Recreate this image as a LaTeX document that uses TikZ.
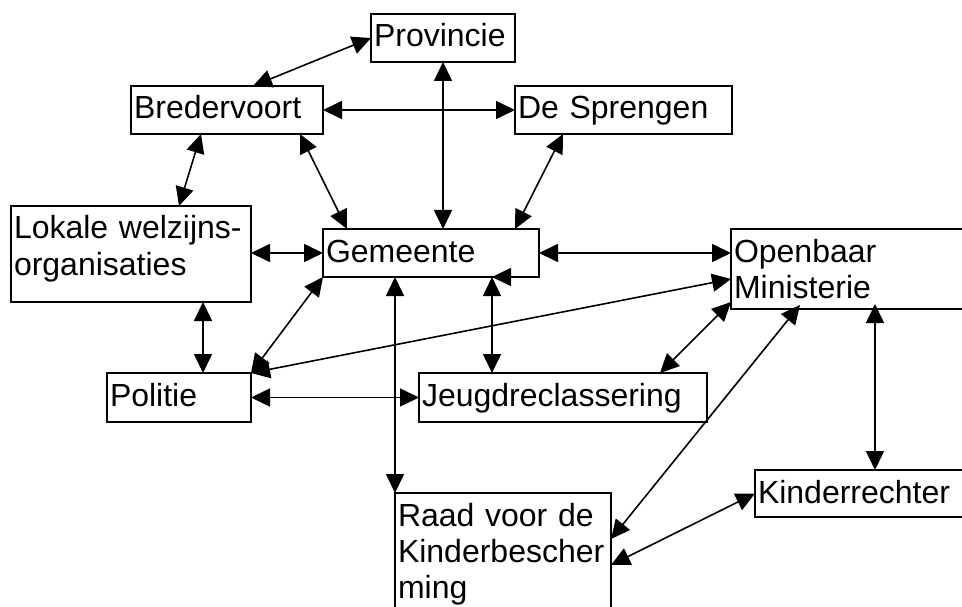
\documentclass[tikz,border=0pt]{standalone}
\usepackage{fontspec}
\setmainfont{Liberation Sans}
\usetikzlibrary{arrows.meta}
\tikzset{
  >={Triangle[length=19pt,width=18pt]},
  box/.style={draw, line width=2pt, anchor=north west, align=left, outer sep=0pt,
    inner xsep=3pt, inner ysep=0pt, text height=33pt,
    font=\fontsize{32}{36}\selectfont},
  link/.style={<->, line width=1.6pt},
}

\begin{document}
\begin{tikzpicture}[x=1pt, y=-1pt]
        \path[use as bounding box, clip] (0,0) rectangle (962,607);

        % boxes
        \node[box, text width=138pt, text depth=15pt] (prov) at (371,14) {Provincie};
        \node[box, text width=186pt, text depth=15pt] (bred) at (131,86) {Bredervoort};
        \node[box, text width=211pt, text depth=15pt] (spr) at (515,86) {De Sprengen};
        \node[box, text width=234pt, text depth=63pt] (lok) at (11,206) {Lokale welzijns-\\organisaties};
        \node[box, text width=210pt, text depth=15pt] (gem) at (323,229) {Gemeente};
        \node[box, text width=254pt, text depth=47pt] (om) at (731,229) {Openbaar\\Ministerie};
        \node[box, text width=138pt, text depth=16pt] (pol) at (107,373) {Politie};
        \node[box, text width=282pt, text depth=16pt] (jeu) at (419,373) {Jeugdreclassering};
        \node[box, text width=210pt, text depth=107pt] (raad) at (395,493) {Raad voor de\\Kinderbescher\\ming};
        \node[box, text width=224pt, text depth=14pt] (kind) at (755,470) {Kinderrechter};

        % connectors
        \draw[link] ([xshift=122pt]bred.north west) -- (prov.west);
        \draw[link] (bred.east) -- (spr.west);
        \draw[link] (prov.south) -- (prov.south |- gem.north);
        \draw[link] ([xshift=70pt]bred.south west) -- ([xshift=48pt]lok.north);
        \draw[link] ([xshift=-23pt]bred.south east) -- ([xshift=24pt]gem.north west);
        \draw[link] ([xshift=48pt]spr.south west) -- ([xshift=-24pt]gem.north east);
        \draw[link] (gem.west -| lok.east) -- (gem.west);
        \draw[link] (gem.east) -- (gem.east -| om.west);
        \draw[link] ([xshift=-48pt]lok.south east) -- ([xshift=96pt]pol.north west);
        \draw[link] (pol.north east) -- (gem.south west);
        \draw[link] (pol.north east) -- ([yshift=-10pt]om.west);
        \draw[link] (pol.east) -- (jeu.west);
        \draw[link] (raad.north west |- gem.south) -- (raad.north west);
        \draw[link] ([xshift=169pt]gem.south west) -- ([xshift=73pt]jeu.north west);
        \draw[link] ([xshift=-47pt]jeu.north east) -- ([yshift=7pt]om.south west);
        \draw[link] ([yshift=-46pt]raad.north east) -- ([xshift=69pt,yshift=4pt]om.south west);
        \draw[link] ([yshift=-72pt]raad.north east) -- (kind.west);
        \draw[link] ([xshift=144pt,yshift=5pt]om.south west) -- ([xshift=120pt]kind.north west);
        \draw[->, line width=1.6pt] (gem.south east) -- ([xshift=-47pt]gem.south east);
\end{tikzpicture}
\end{document}
